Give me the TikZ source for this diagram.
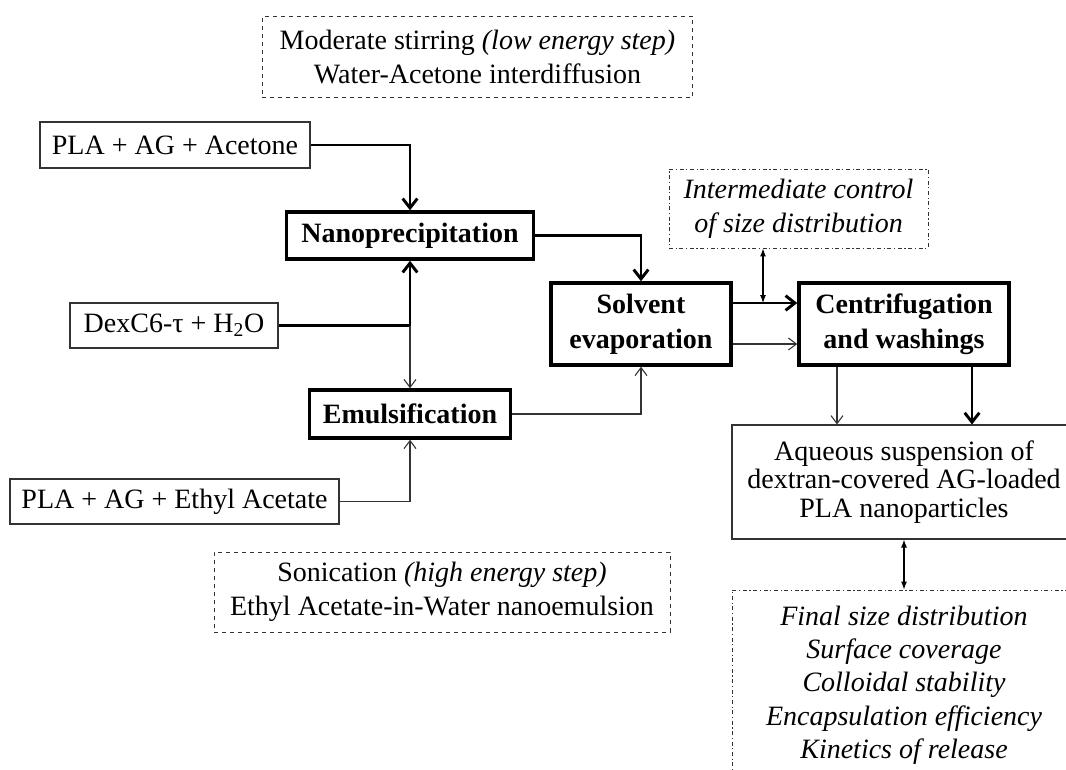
\documentclass[tikz,border=0pt]{standalone}
\usepackage{fontspec}
\setmainfont{Liberation Serif}
\usetikzlibrary{arrows.meta}

\begin{document}
\begin{tikzpicture}[x=0.75pt, y=-0.75pt,
  box/.style={draw=black!80, line width=0.8pt, align=center, inner sep=0pt, font=\fontsize{21}{25.5}\selectfont},
  stepbox/.style={box, draw=black, line width=2.6pt, font=\fontsize{21}{26}\selectfont\bfseries},
  notebox/.style={box, dashed, line width=0.7pt},
  ctrlbox/.style={box, dash dot, line width=0.7pt, font=\fontsize{21}{25.5}\selectfont\itshape},
  flow/.style={-{Straight Barb[length=6pt,width=9pt]}, line width=0.8pt, black!80},
  bigflow/.style={-{Straight Barb[length=7pt,width=11pt]}, line width=2.2pt},
  both/.style={{Latex[length=6pt,width=4.5pt]}-{Latex[length=6pt,width=4.5pt]}, line width=0.8pt}]

\useasboundingbox (0,0) rectangle (1066,769);
\clip (0,0) rectangle (1066,769);

% notes on the mixing steps
\node[notebox, minimum width=323pt, minimum height=60.75pt] (stir) at (477.5,57)
  {Moderate stirring \textit{(low energy step)}\\Water-Acetone interdiffusion};
\node[notebox, minimum width=342pt, minimum height=60pt] (sonic) at (442,592)
  {Sonication \textit{(high energy step)}\\Ethyl Acetate-in-Water nanoemulsion};

% starting mixtures
\node[box, minimum width=202.5pt, minimum height=34.5pt] (pla1) at (175,145) {PLA + AG + Acetone};
\node[box, minimum width=156pt, minimum height=33.75pt] (dex) at (174,325.5) {DexC6-τ + H\textsubscript{2}O};
\node[box, minimum width=246.75pt, minimum height=33.75pt] (pla2) at (174.5,501.5) {PLA + AG + Ethyl Acetate};

% process steps
\node[stepbox, minimum width=185.25pt, minimum height=35.25pt] (nano) at (410,235.5) {Nanoprecipitation};
\node[stepbox, minimum width=150.75pt, minimum height=36pt] (emul) at (410,414) {Emulsification};
\node[stepbox, minimum width=135pt, minimum height=61.5pt] (solv) at (641,324) {Solvent\\evaporation};
\node[stepbox, minimum width=157.5pt, minimum height=61.5pt] (centri) at (904,324) {Centrifugation\\and washings};

% controls and product
\node[ctrlbox, minimum width=194.25pt, minimum height=59.25pt] (ctrl) at (798.5,208.5)
  {Intermediate control\\of size distribution};
\node[box, minimum width=258pt, minimum height=85.5pt, font=\fontsize{21}{21.5}\selectfont] (aq) at (904,482)
  {Aqueous suspension of\\dextran-covered AG-loaded\\PLA nanoparticles};
\node[ctrlbox, minimum width=258pt, minimum height=142.5pt, font=\fontsize{21}{25}\selectfont\itshape] (props) at (904,685)
  {Final size distribution\\Surface coverage\\Colloidal stability\\Encapsulation efficiency\\Kinetics of release};

% nanoprecipitation route
\draw[bigflow] (pla1.east) -| (nano.north);
\coordinate (join) at (nano.south |- dex.east);
\draw[bigflow] (dex.east) -| (nano.south);
\draw[bigflow] (nano.east) -| (solv.north);
\draw[bigflow] ([yshift=15.75pt]solv.east) -- ([yshift=15.75pt]solv.east -| centri.west);
\draw[bigflow] ([xshift=51pt]centri.south) -- ([xshift=51pt]centri.south |- aq.north);

% emulsification route
\draw[flow] (join) -- (emul.north);
\draw[flow] (pla2.east) -| (emul.south);
\draw[flow] (emul.east) -| (solv.south);
\draw[flow] ([yshift=-15pt]solv.east) -- ([yshift=-15pt]solv.east -| centri.west);
\draw[flow] ([xshift=-50.25pt]centri.south) -- ([xshift=-50.25pt]centri.south |- aq.north);

% characterisation
\coordinate (tap) at (763,303);
\draw[both] (tap |- ctrl.south) -- (tap);
\draw[both] (aq.south) -- (props.north);
\end{tikzpicture}
\end{document}
